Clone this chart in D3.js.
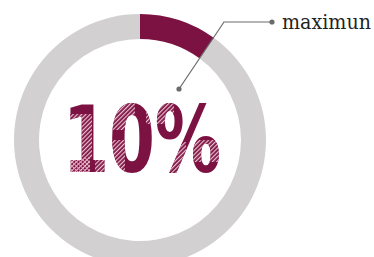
<!DOCTYPE html>
<html><head><meta charset="utf-8">
<script src="https://cdn.jsdelivr.net/npm/d3@7"></script>
<style>html,body{margin:0;padding:0;background:#fff;overflow:hidden}</style>
</head><body>
<svg id="c" width="374" height="257"></svg>
<script>
const categories = ["maximun", "rest"];
const values = [10, 90];
const colors = ["#7c1241", "#d2d0d1"];
const labelText = "maximun";

const svg = d3.select("#c");
const cx = 140, cy = 140, rOuter = 126, rInner = 101;
const g = svg.append("g").attr("transform", `translate(${cx},${cy})`);

const pie = d3.pie().sort(null).value(d => d)(values);
const arc = d3.arc().innerRadius(rInner).outerRadius(rOuter);
g.selectAll("path.slice").data(pie).join("path")
  .attr("class", "slice")
  .attr("d", arc)
  .attr("fill", (d, i) => colors[i]);

// hatch patterns
const defs = svg.append("defs");
const p1 = defs.append("pattern").attr("id", "hatch").attr("patternUnits", "userSpaceOnUse")
  .attr("width", 3).attr("height", 3).attr("patternTransform", "rotate(45)");
p1.append("rect").attr("width", 3).attr("height", 3).attr("fill", colors[0]);
p1.append("rect").attr("width", 1.2).attr("height", 3).attr("fill", "#ecc4d4");
const p2 = defs.append("pattern").attr("id", "cross").attr("patternUnits", "userSpaceOnUse")
  .attr("width", 3).attr("height", 3).attr("patternTransform", "rotate(45)");
p2.append("rect").attr("width", 3).attr("height", 3).attr("fill", colors[0]);
p2.append("rect").attr("width", 1).attr("height", 3).attr("fill", "#f2d6e1");
p2.append("rect").attr("width", 3).attr("height", 1).attr("fill", "#dca2b9");

// big percentage text
const pct = Math.round(values[0] / d3.sum(values) * 100) + "%";
const clip = defs.append("clipPath").attr("id", "txtclip");
const tAttrs = sel => sel.attr("x", 63).attr("y", 172)
  .attr("font-family", "DejaVu Sans").attr("font-weight", "bold")
  .attr("font-size", 93).attr("textLength", 158).attr("lengthAdjust", "spacingAndGlyphs")
  .text(pct);
clip.append("text").call(tAttrs);
svg.append("text").call(tAttrs).attr("fill", colors[0]);

const patches = [
  {x: 70, y: 114, w: 22, h: 44, f: "hatch"},
  {x: 60, y: 157, w: 30, h: 16, f: "cross"},
  {x: 95, y: 102, w: 40, h: 28, f: "hatch"},
  {x: 95, y: 140, w: 30, h: 34, f: "hatch"},
  {x: 146, y: 102, w: 28, h: 22, f: "hatch"},
  {x: 152, y: 142, w: 34, h: 32, f: "hatch"},
  {x: 193, y: 140, w: 30, h: 22, f: "hatch"}
];
svg.append("g").attr("clip-path", "url(#txtclip)")
  .selectAll("rect").data(patches).join("rect")
  .attr("x", d => d.x).attr("y", d => d.y).attr("width", d => d.w).attr("height", d => d.h)
  .attr("fill", d => `url(#${d.f})`);

// leader line
const pts = [[179, 89], [224, 22], [272, 22]];
svg.append("path").attr("d", d3.line()(pts)).attr("fill", "none")
  .attr("stroke", "#6b6b6b").attr("stroke-width", 1.2);
svg.selectAll("circle.dot").data([pts[0], pts[2]]).join("circle")
  .attr("class", "dot").attr("cx", d => d[0]).attr("cy", d => d[1]).attr("r", 2.6).attr("fill", "#6b6b6b");
svg.append("text").attr("x", 282).attr("y", 29)
  .attr("font-family", "DejaVu Serif").attr("font-size", 20).attr("fill", "#222")
  .attr("textLength", 89).attr("lengthAdjust", "spacingAndGlyphs")
  .text(labelText);
</script>
</body></html>
